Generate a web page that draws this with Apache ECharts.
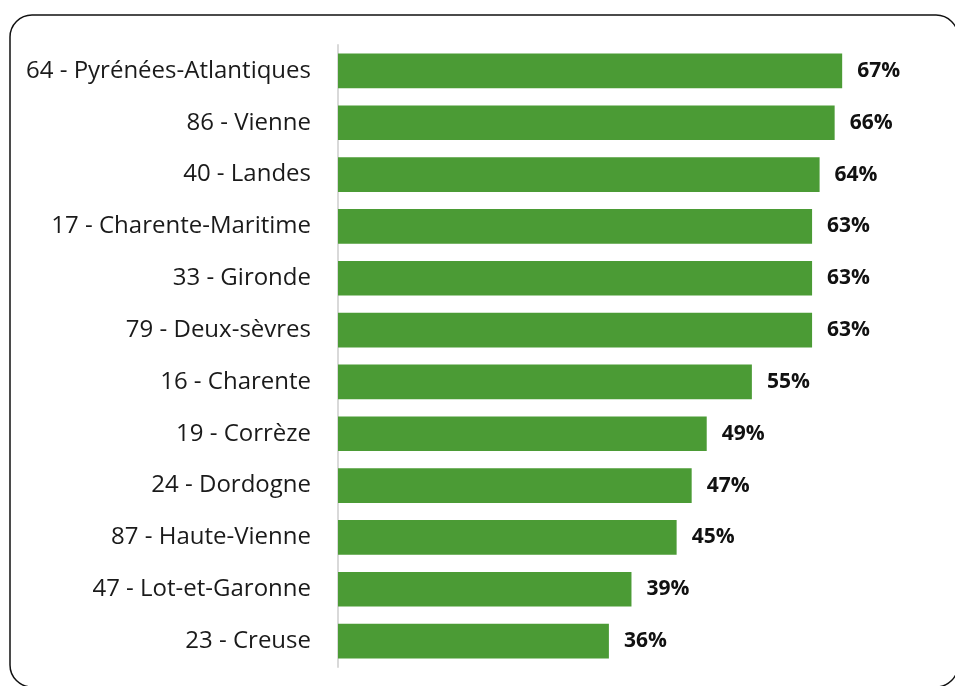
<!DOCTYPE html>
<html>
<head>
<meta charset="utf-8">
<script src="https://cdn.jsdelivr.net/npm/echarts@6/dist/echarts.min.js"></script>
<style>
    html, body { margin: 0; padding: 0; background: #fff; }
    #chart { width: 955px; height: 686px; }
</style>
</head>
<body>
<div id="chart"></div>
<script>
// départements, du haut vers le bas
const departements = [
    '64 - Pyrénées-Atlantiques',
    '86 - Vienne',
    '40 - Landes',
    '17 - Charente-Maritime',
    '33 - Gironde',
    '79 - Deux-sèvres',
    '16 - Charente',
    '19 - Corrèze',
    '24 - Dordogne',
    '87 - Haute-Vienne',
    '47 - Lot-et-Garonne',
    '23 - Creuse'
];
const taux = [67, 66, 64, 63, 63, 63, 55, 49, 47, 45, 39, 36];

const myChart = echarts.init(document.getElementById('chart'));

const option = {
    animation: false,
    grid: {
        left: 338,
        right: 15,
        top: 45,
        bottom: 19
    },
    xAxis: {
        type: 'value',
        min: 0,
        max: 80,
        show: false
    },
    yAxis: {
        type: 'category',
        inverse: true,
        data: departements,
        axisTick: { show: false },
        axisLine: { show: true, lineStyle: { color: '#d9d9d9', width: 2 } },
        axisLabel: {
            margin: 27,
            fontFamily: 'Open Sans',
            fontSize: 24,
            color: '#1a1a1a'
        }
    },
    series: [
        {
            type: 'bar',
            data: taux,
            barWidth: '67%',
            itemStyle: { color: '#4b9b35' },
            label: {
                show: true,
                position: 'right',
                distance: 15,
                formatter: '{c}%',
                fontFamily: 'Open Sans',
                fontWeight: 'bold',
                fontSize: 21,
                color: '#111'
            }
        }
    ],
    graphic: [
        {
            type: 'rect',
            silent: true,
            shape: { x: 10, y: 15, width: 948, height: 672, r: 22 },
            style: { fill: 'none', stroke: '#111', lineWidth: 1.5 }
        }
    ]
};

myChart.setOption(option);
</script>
</body>
</html>
